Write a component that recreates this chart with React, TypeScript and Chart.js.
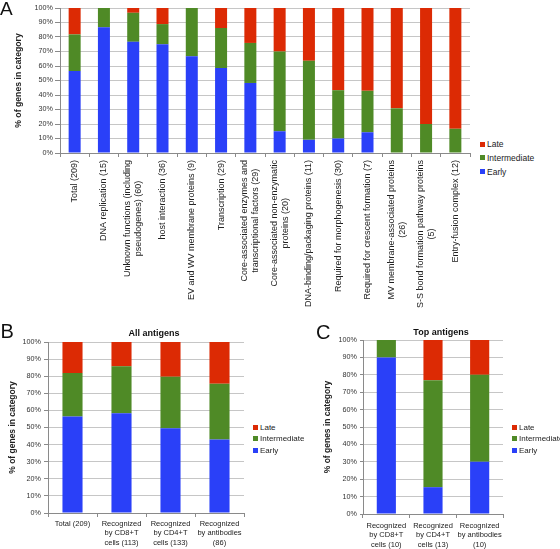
import React, { useEffect, useRef } from "react";
import { Chart, registerables } from "chart.js";

Chart.register(...registerables);
Chart.defaults.font.family = "'Liberation Sans', Arial, sans-serif";

const FONT = "'Liberation Sans', Arial, sans-serif";

// Series
const SERIES_NAMES = ["Early", "Intermediate", "Late"];
const SERIES_COLORS = ["#2a40f8", "#4f8a26", "#dc2a04"];
const Y_TICKS = [0, 10, 20, 30, 40, 50, 60, 70, 80, 90, 100];
const Y_TITLE = "% of genes in category";

// Panel A
const catsA: string[][] = [
  ["Total (209)"],
  ["DNA replication (15)"],
  ["Unknown functions (including", "pseudogenes) (60)"],
  ["host interaction (36)"],
  ["EV and WV membrane proteins (9)"],
  ["Transcription (29)"],
  ["Core-associated enzymes and", "transcriptional factors (29)"],
  ["Core-associated non-enzymatic", "proteins (20)"],
  ["DNA-binding/packaging proteins (11)"],
  ["Required for morphogenesis (30)"],
  ["Required for crescent formation (7)"],
  ["MV membrane-associated proteins", "(26)"],
  ["S-S bond formation pathway proteins", "(5)"],
  ["Entry-fusion complex (12)"],
];
const earlyA = [56.5, 86.7, 76.7, 75.0, 66.7, 58.6, 48.3, 15.0, 9.1, 10.0, 14.3, 0, 0, 0];
const interA = [25.3, 13.3, 20.0, 13.9, 33.3, 27.6, 27.6, 55.0, 54.5, 33.3, 28.6, 30.8, 20.0, 16.7];
const lateA = [18.2, 0, 3.3, 11.1, 0, 13.8, 24.1, 30.0, 36.4, 56.7, 57.1, 69.2, 80.0, 83.3];

// Panel B
const titleB = "All antigens";
const catsB: string[][] = [
  ["Total (209)"],
  ["Recognized", "by CD8+T", "cells (113)"],
  ["Recognized", "by CD4+T", "cells (133)"],
  ["Recognized", "by antibodies", "(86)"],
];
const earlyB = [56.5, 58.4, 49.6, 43.0];
const interB = [25.3, 27.4, 30.1, 32.6];
const lateB = [18.2, 14.2, 20.3, 24.4];

// Panel C
const titleC = "Top antigens";
const catsC: string[][] = [
  ["Recognized", "by CD8+T", "cells (10)"],
  ["Recognized", "by CD4+T", "cells (13)"],
  ["Recognized", "by antibodies", "(10)"],
];
const earlyC = [90.0, 15.4, 30.0];
const interC = [10.0, 61.5, 50.0];
const lateC = [0, 23.1, 20.0];

type PanelProps = {
  cats: string[][];
  series: number[][];
  left: number;
  top: number;
  width: number;
  height: number;
  pad: { top: number; right: number; left: number; bottom: number };
  yWidth: number;
  xHeight: number;
  yTitleSize: number;
  yTitlePad: number;
  yTickSize: number;
  yTickLen: number;
  yTickPad: number;
  xTickSize?: number;
  xTickPad?: number;
  rotated?: { font: string; offset: number; lineHeight: number };
};

function BarPanel(p: PanelProps) {
  const ref = useRef<HTMLCanvasElement | null>(null);
  useEffect(() => {
    if (!ref.current) return;
    const plugins: any[] = [];
    if (p.rotated) {
      const rot = p.rotated;
      plugins.push({
        id: "rotatedCatLabels",
        afterDraw(chart: any) {
          const ctx = chart.ctx;
          const xs = chart.scales.x;
          ctx.save();
          ctx.font = rot.font;
          ctx.fillStyle = "#222";
          ctx.textBaseline = "middle";
          ctx.textAlign = "center";
          p.cats.forEach((lines, i) => {
            const px = xs.getPixelForValue(i);
            const maxW = Math.max(...lines.map((l) => ctx.measureText(l).width));
            ctx.save();
            ctx.translate(px, xs.top + rot.offset);
            ctx.rotate(-Math.PI / 2);
            lines.forEach((l, j) => {
              ctx.fillText(l, -maxW / 2, (j - (lines.length - 1) / 2) * rot.lineHeight);
            });
            ctx.restore();
          });
          ctx.restore();
        },
      });
    }
    const chart = new Chart(ref.current, {
      type: "bar",
      data: {
        labels: p.rotated ? p.cats.map((c) => c.join(" ")) : p.cats,
        datasets: SERIES_NAMES.map((name, i) => ({
          label: name,
          data: p.series[i],
          backgroundColor: SERIES_COLORS[i],
          borderWidth: 0,
          categoryPercentage: 1,
          barPercentage: 0.41,
        })),
      },
      options: {
        responsive: false,
        animation: false,
        devicePixelRatio: 1,
        layout: { padding: p.pad },
        plugins: {
          legend: { display: false },
          title: { display: false },
          tooltip: { enabled: false },
        },
        scales: {
          x: {
            stacked: true,
            grid: {
              drawOnChartArea: false,
              drawTicks: true,
              tickLength: 4,
              offset: true,
              tickColor: "#8a8a8a",
            },
            border: { color: "#8a8a8a", width: 1 },
            ticks: {
              display: !p.rotated,
              autoSkip: false,
              maxRotation: 0,
              minRotation: 0,
              color: "#222",
              padding: p.xTickPad ?? 2,
              font: { size: p.xTickSize ?? 7.5, lineHeight: 1.27 },
            },
            afterFit: (s: any) => {
              s.height = p.xHeight;
            },
          },
          y: {
            stacked: true,
            min: 0,
            max: 100,
            afterBuildTicks: (s: any) => {
              s.ticks = Y_TICKS.map((v) => ({ value: v }));
            },
            grid: {
              color: "#c6c6c6",
              tickColor: "#8a8a8a",
              tickLength: p.yTickLen,
              drawTicks: true,
            },
            border: { color: "#8a8a8a", width: 1 },
            ticks: {
              color: "#333",
              padding: p.yTickPad,
              font: { size: p.yTickSize },
              callback: (v: any) => v + "%",
            },
            title: {
              display: true,
              text: Y_TITLE,
              color: "#222",
              font: { size: p.yTitleSize, weight: "bold" },
              padding: { top: p.yTitlePad, bottom: 0 },
            },
            afterFit: (s: any) => {
              s.width = p.yWidth;
            },
          },
        },
      },
      plugins,
    } as any);
    return () => chart.destroy();
  }, []);
  return (
    <canvas
      ref={ref}
      width={p.width}
      height={p.height}
      style={{ position: "absolute", left: p.left, top: p.top, width: p.width, height: p.height }}
    />
  );
}

function Legend({ left, centers, size }: { left: number; centers: number[]; size: number }) {
  const order = [2, 1, 0];
  return (
    <>
      {order.map((si, k) => (
        <div
          key={si}
          style={{
            position: "absolute",
            left,
            top: centers[k] - 6,
            height: 12,
            display: "flex",
            alignItems: "center",
            fontFamily: FONT,
            fontSize: size,
            color: "#222",
            whiteSpace: "nowrap",
          }}
        >
          <span
            style={{
              display: "inline-block",
              width: 5,
              height: 5,
              background: SERIES_COLORS[si],
              marginRight: 2,
            }}
          />
          <span>{SERIES_NAMES[si]}</span>
        </div>
      ))}
    </>
  );
}

function Text({ x, y, size, bold, children }: any) {
  return (
    <div
      style={{
        position: "absolute",
        left: x,
        top: y,
        fontFamily: FONT,
        fontSize: size,
        lineHeight: 1,
        fontWeight: bold ? "bold" : "normal",
        color: "#111",
        whiteSpace: "nowrap",
      }}
    >
      {children}
    </div>
  );
}

function CenterText({ cx, cy, size, bold, children }: any) {
  return (
    <div
      style={{
        position: "absolute",
        left: cx - 100,
        width: 200,
        top: cy - size / 2,
        textAlign: "center",
        fontFamily: FONT,
        fontSize: size,
        lineHeight: 1,
        fontWeight: bold ? "bold" : "normal",
        color: "#111",
        whiteSpace: "nowrap",
      }}
    >
      {children}
    </div>
  );
}

export default function App() {
  return (
    <div style={{ position: "absolute", left: 0, top: 0, width: 560, height: 549, background: "#fff", overflow: "hidden" }}>
      <BarPanel
        cats={catsA}
        series={[earlyA, interA, lateA]}
        left={0}
        top={0}
        width={472}
        height={310}
        pad={{ top: 8, right: 2, left: 0, bottom: 0 }}
        yWidth={60}
        xHeight={157}
        yTitleSize={8.7}
        yTitlePad={13.8}
        yTickSize={7.2}
        yTickLen={5}
        yTickPad={2}
        rotated={{ font: `9px ${FONT}`, offset: 7, lineHeight: 11 }}
      />
      <BarPanel
        cats={catsB}
        series={[earlyB, interB, lateB]}
        left={0}
        top={320}
        width={250}
        height={229}
        pad={{ top: 22, right: 6, left: 0, bottom: 0 }}
        yWidth={48}
        xHeight={36}
        yTitleSize={8.5}
        yTitlePad={7.9}
        yTickSize={7.2}
        yTickLen={4}
        yTickPad={3}
        xTickSize={7.5}
        xTickPad={2}
      />
      <BarPanel
        cats={catsC}
        series={[earlyC, interC, lateC]}
        left={300}
        top={320}
        width={208}
        height={229}
        pad={{ top: 20, right: 5, left: 0, bottom: 0 }}
        yWidth={63}
        xHeight={35}
        yTitleSize={8.5}
        yTitlePad={22.9}
        yTickSize={7.2}
        yTickLen={3}
        yTickPad={3}
        xTickSize={7.5}
        xTickPad={3}
      />
      <Legend left={480} centers={[144, 157.5, 171.5]} size={8.5} />
      <Legend left={253} centers={[427, 438.5, 450]} size={8} />
      <Legend left={512} centers={[427, 438.5, 450]} size={8} />
      <CenterText cx={154} cy={333} size={9} bold>{titleB}</CenterText>
      <CenterText cx={441} cy={332} size={9} bold>{titleC}</CenterText>
      <Text x={0} y={-1} size={19}>A</Text>
      <Text x={0.5} y={321} size={20}>B</Text>
      <Text x={316} y={321.5} size={20}>C</Text>
    </div>
  );
}
